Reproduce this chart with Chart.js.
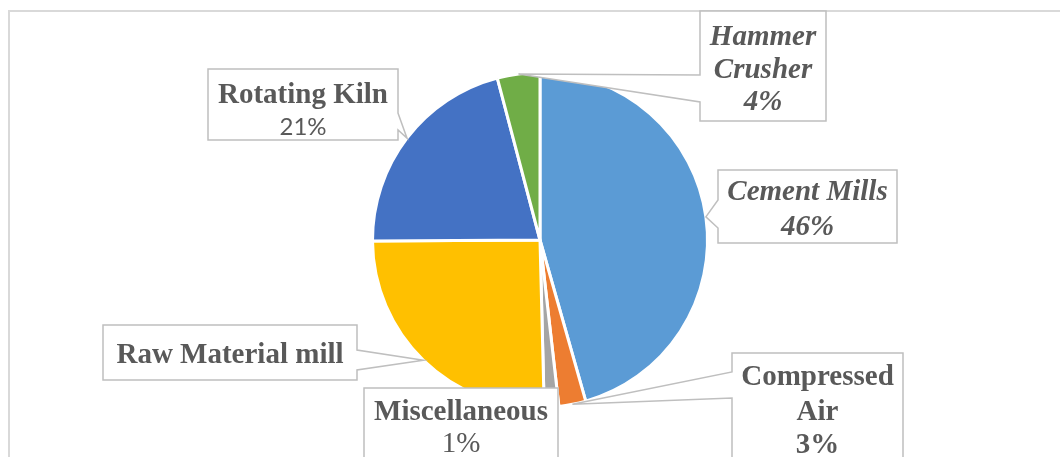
<!DOCTYPE html>
<html>
<head>
<meta charset="utf-8">
<script src="https://cdn.jsdelivr.net/npm/chart.js@4.4.0/dist/chart.umd.min.js"></script>
<style>
  html, body { margin: 0; padding: 0; background: #fff; }
  #wrap { width: 1060px; height: 457px; position: relative; }
</style>
</head>
<body>
<div id="wrap"><canvas id="chart" width="1060" height="457"></canvas></div>
<script>
// data (clockwise from 12 o'clock)
const labels = ["Cement Mills", "Compressed Air", "Miscellaneous", "Raw Material mill", "Rotating Kiln", "Hammer Crusher"];
const values = [45.6, 2.6, 1.4, 25.3, 21.0, 4.1];
const colors = ["#5B9BD5", "#ED7D31", "#A5A5A5", "#FFC000", "#4472C4", "#70AD47"];

const TEXT = "#595959";
const LINE = "#BFBFBF";
const serif = '"Liberation Serif", "Times New Roman", serif';

// callout boxes, one per slice (index into labels)
// side = edge that carries the pointer, a/b = where the pointer meets that edge
const callouts = [
  { i: 0, x: 718, y: 170, w: 179, h: 73, side: "left", a: 200, b: 228,
    lines: [{ t: "Cement Mills", f: "italic bold 29px " + serif, y: 200 },
            { pct: true, f: "italic bold 29px " + serif, y: 235 }] },
  { i: 1, x: 732, y: 353, w: 171, h: 120, side: "left", a: 372, b: 398,
    lines: [{ t: "Compressed", f: "bold 29px " + serif, y: 385 },
            { t: "Air", f: "bold 29px " + serif, y: 420 },
            { pct: true, f: "bold 29px " + serif, y: 453 }] },
  { i: 2, x: 364, y: 388, w: 194, h: 90, side: null,
    lines: [{ t: "Miscellaneous", f: "bold 29px " + serif, y: 420 },
            { pct: true, f: "29px " + serif, y: 452 }] },
  { i: 3, x: 103, y: 325, w: 254, h: 55, side: "right", a: 350, b: 370,
    lines: [{ t: "Raw Material mill", f: "bold 29px " + serif, y: 363 }] },
  { i: 4, x: 208, y: 69, w: 190, h: 71, side: "right", a: 113, b: 130,
    lines: [{ t: "Rotating Kiln", f: "bold 29px " + serif, y: 103 },
            { pct: true, f: '24px Lato, "Noto Sans", sans-serif', y: 135 }] },
  { i: 5, x: 700, y: 11, w: 126, h: 110, side: "left", a: 75, b: 102,
    lines: [{ t: "Hammer", f: "italic bold 29px " + serif, y: 45 },
            { t: "Crusher", f: "italic bold 29px " + serif, y: 78 },
            { pct: true, f: "italic bold 29px " + serif, y: 110 }] },
];

const total = values.reduce((s, v) => s + v, 0);

// outer chart frame
const framePlugin = {
  id: "frame",
  beforeDraw(chart) {
    const ctx = chart.ctx;
    ctx.save();
    ctx.strokeStyle = "#D9D9D9";
    ctx.lineWidth = 2;
    ctx.beginPath();
    ctx.moveTo(9, 470);
    ctx.lineTo(9, 11);
    ctx.lineTo(1070, 11);
    ctx.stroke();
    ctx.restore();
  },
};

// excel-style callout labels
const calloutPlugin = {
  id: "callouts",
  afterDatasetsDraw(chart) {
    const ctx = chart.ctx;
    const meta = chart.getDatasetMeta(0);
    callouts.forEach((c) => {
      const arc = meta.data[c.i];
      const mid = (arc.startAngle + arc.endAngle) / 2;
      const tx = arc.x + Math.cos(mid) * arc.outerRadius;
      const ty = arc.y + Math.sin(mid) * arc.outerRadius;
      const x0 = c.x, y0 = c.y, x1 = c.x + c.w, y1 = c.y + c.h;

      ctx.save();
      ctx.beginPath();
      ctx.moveTo(x0, y0);
      ctx.lineTo(x1, y0);
      if (c.side === "right") {
        ctx.lineTo(x1, c.a);
        ctx.lineTo(tx, ty);
        ctx.lineTo(x1, c.b);
      }
      ctx.lineTo(x1, y1);
      ctx.lineTo(x0, y1);
      if (c.side === "left") {
        ctx.lineTo(x0, c.b);
        ctx.lineTo(tx, ty);
        ctx.lineTo(x0, c.a);
      }
      ctx.closePath();
      ctx.fillStyle = "#fff";
      ctx.fill();
      ctx.strokeStyle = LINE;
      ctx.lineWidth = 1.5;
      ctx.stroke();

      ctx.fillStyle = TEXT;
      ctx.textAlign = "center";
      ctx.textBaseline = "alphabetic";
      c.lines.forEach((ln) => {
        const txt = ln.pct ? Math.round(values[c.i] / total * 100) + "%" : ln.t;
        ctx.font = ln.f;
        ctx.fillText(txt, x0 + c.w / 2, ln.y);
      });
      ctx.restore();
    });
  },
};

new Chart(document.getElementById("chart"), {
  type: "pie",
  data: {
    labels: labels,
    datasets: [{
      data: values,
      backgroundColor: colors,
      borderColor: "#fff",
      borderWidth: 3,
    }],
  },
  options: {
    responsive: false,
    animation: false,
    layout: { padding: { top: 71, bottom: 48, left: 20, right: 0 } },
    plugins: {
      legend: { display: false },
      tooltip: { enabled: false },
    },
  },
  plugins: [framePlugin, calloutPlugin],
});
</script>
</body>
</html>
